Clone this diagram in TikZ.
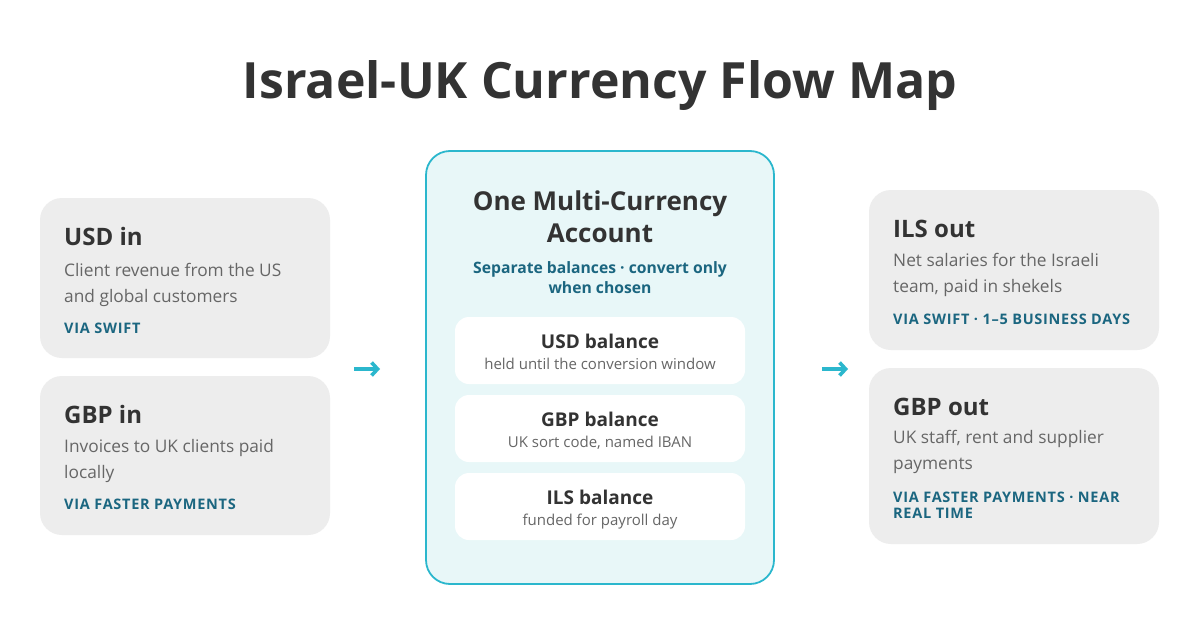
\documentclass[tikz,border=0pt]{standalone}
\usepackage{fontspec}
\setmainfont{Open Sans}
\newfontfamily\viafont[LetterSpace=5]{Open Sans}
\usetikzlibrary{arrows.meta}
\definecolor{cardbg}{HTML}{EDEDED}
\definecolor{ink}{HTML}{333333}
\definecolor{body}{HTML}{666666}
\definecolor{tealtxt}{HTML}{1B6680}
\definecolor{cyanline}{HTML}{2BB7CD}
\definecolor{centerbg}{HTML}{E8F7F8}
\tikzset{
  x=1pt, y=-1pt,
  card/.style={fill=cardbg, rounded corners=22pt},
  hub/.style={fill=centerbg, draw=cyanline, line width=1.8pt, rounded corners=24pt},
  bal/.style={fill=white, rounded corners=14pt},
  ctitle/.style={anchor=base west, inner sep=0pt, text=ink, font=\fontsize{24}{28}\selectfont\bfseries},
  cbody/.style={anchor=base west, inner sep=0pt, text=body, align=left, font=\fontsize{17.3}{26}\selectfont},
  cvia/.style={anchor=base west, inner sep=0pt, text=tealtxt, align=left, font=\viafont\fontsize{14.5}{16}\selectfont\bfseries},
  btitle/.style={anchor=base, inner sep=0pt, text=ink, font=\fontsize{19}{22}\selectfont\bfseries},
  bsub/.style={anchor=base, inner sep=0pt, text=body, font=\fontsize{15}{17}\selectfont},
  flow/.style={draw=cyanline, line width=3.6pt, -{Straight Barb[length=6pt,width=13pt,line width=3.6pt]}}
}
\begin{document}
\begin{tikzpicture}
\useasboundingbox (0,0) rectangle (1200,637);
\fill[white] (0,0) rectangle (1200,637);
% title
\node[anchor=base, inner sep=0pt, text=ink, font=\fontsize{50}{58}\selectfont\bfseries] (title) at (600,98) {Israel-UK Currency Flow Map};
% left cards
\path[card] (40,198) rectangle (330,358);
\node[ctitle] (usdin) at (64,245) {USD in};
\node[cbody] (usdinb) at (64,302) {Client revenue from the US\\and global customers};
\node[cvia] (usdinv) at (64,333) {VIA SWIFT};
\path[card] (40,376) rectangle (330,535);
\node[ctitle] (gbpin) at (64,423) {GBP in};
\node[cbody] (gbpinb) at (64,478) {Invoices to UK clients paid\\locally};
\node[cvia] (gbpinv) at (64,509) {VIA FASTER PAYMENTS};
% hub
\path[hub] (426,151) rectangle (774,584);
\node[anchor=base, inner sep=0pt, text=ink, align=center, font=\fontsize{26}{32}\selectfont\bfseries] (hubt) at (600,242) {One Multi-Currency\\Account};
\node[anchor=base, inner sep=0pt, text=tealtxt, align=center, font=\fontsize{15.7}{20}\selectfont\bfseries] (hubs) at (600,293) {Separate balances · convert only\\when chosen};
\path[bal] (455,317) rectangle (745,384);
\node[btitle] (usdb) at (600,348) {USD balance};
\node[bsub] (usdbs) at (600,369) {held until the conversion window};
\path[bal] (455,395) rectangle (745,462);
\node[btitle] (gbpb) at (600,426) {GBP balance};
\node[bsub] (gbpbs) at (600,447) {UK sort code, named IBAN};
\path[bal] (455,473) rectangle (745,540);
\node[btitle] (ilsb) at (600,504) {ILS balance};
\node[bsub] (ilsbs) at (600,525) {funded for payroll day};
% right cards
\path[card] (869,190) rectangle (1159,350);
\node[ctitle] (ilsout) at (893,237) {ILS out};
\node[cbody] (ilsoutb) at (893,292) {Net salaries for the Israeli\\team, paid in shekels};
\node[cvia] (ilsoutv) at (893,324) {VIA SWIFT · 1–5 BUSINESS DAYS};
\path[card] (869,368) rectangle (1159,544);
\node[ctitle] (gbpout) at (893,415) {GBP out};
\node[cbody] (gbpoutb) at (893,469) {UK staff, rent and supplier\\payments};
\node[cvia] (gbpoutv) at (893,518) {VIA FASTER PAYMENTS · NEAR\\REAL TIME};
% arrows
\coordinate (la) at (354,369);
\coordinate (lb) at (380,369);
\coordinate (ra) at (822,369);
\coordinate (rb) at (848,369);
\draw[flow] (la) -- (lb);
\draw[flow] (ra) -- (rb);
\end{tikzpicture}
\end{document}
